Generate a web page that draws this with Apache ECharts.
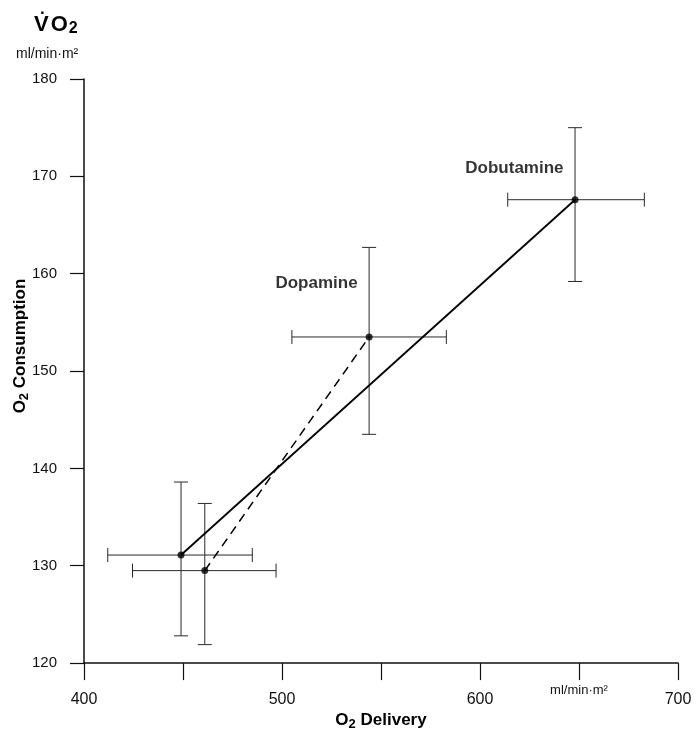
<!DOCTYPE html>
<html><head><meta charset="utf-8">
<script src="https://cdn.jsdelivr.net/npm/echarts@6/dist/echarts.min.js"></script>
<style>html,body{margin:0;padding:0;background:#fff}#c{width:698px;height:736px}</style>
</head><body><div id="c"></div>
<script>
// Groups: baseline before dobutamine, baseline before dopamine, dopamine, dobutamine
const groups = ['Baseline (Dobutamine)', 'Baseline (Dopamine)', 'Dopamine', 'Dobutamine'];
const pointLabels = ['', '', 'Dopamine', 'Dobutamine'];
const delivery = [449, 461, 544, 648];            // O2 delivery, ml/min·m²
const consumption = [131.1, 129.5, 153.5, 167.6]; // O2 consumption, ml/min·m²
const deliveryLow = [412, 424.5, 505, 614];
const deliveryHigh = [485, 497, 583, 683];
const consumptionLow = [122.8, 121.9, 143.5, 159.2];
const consumptionHigh = [138.6, 136.4, 162.7, 175.0];
const solidPair = [0, 3];  // baseline -> dobutamine
const dashedPair = [1, 2]; // baseline -> dopamine
const xTickLabels = {400: '400', 500: '500', 600: '600', 650: 'ml/min·m²', 700: '700'};

const FONT = '"Liberation Sans", Arial, Helvetica, sans-serif';
const chart = echarts.init(document.getElementById('c'), null, {renderer: 'canvas'});

const errData = groups.map((g, i) => [delivery[i], consumption[i], deliveryLow[i], deliveryHigh[i], consumptionLow[i], consumptionHigh[i]]);
const pts = groups.map((g, i) => ({value: [delivery[i], consumption[i]], name: pointLabels[i]}));

function errRender(params, api) {
  const c = api.coord([api.value(0), api.value(1)]);
  const xl = api.coord([api.value(2), api.value(1)]);
  const xh = api.coord([api.value(3), api.value(1)]);
  const yl = api.coord([api.value(0), api.value(4)]);
  const yh = api.coord([api.value(0), api.value(5)]);
  const cap = 7;
  const st = {stroke: '#2a2a2a', lineWidth: 1};
  const L = (x1, y1, x2, y2) => ({type: 'line', shape: {x1, y1, x2, y2}, style: st});
  return {type: 'group', children: [
    L(xl[0], c[1], xh[0], c[1]),
    L(xl[0], c[1] - cap, xl[0], c[1] + cap),
    L(xh[0], c[1] - cap, xh[0], c[1] + cap),
    L(c[0], yl[1], c[0], yh[1]),
    L(c[0] - cap, yl[1], c[0] + cap, yl[1]),
    L(c[0] - cap, yh[1], c[0] + cap, yh[1])
  ]};
}

chart.setOption({
  animation: false,
  backgroundColor: '#fff',
  grid: {left: 84, right: 20, top: 79, bottom: 61, containLabel: false},
  xAxis: {
    type: 'value', min: 400, max: 700, interval: 50,
    splitLine: {show: false},
    axisLine: {lineStyle: {color: '#111', width: 1.5}},
    axisTick: {length: 17, lineStyle: {color: '#111', width: 1.2}},
    axisLabel: {
      margin: 21,
      formatter: v => {
        const t = xTickLabels[v];
        if (!t) return '';
        return v === 650 ? '{u|' + t + '}' : '{n|' + t + '}';
      },
      rich: {
        n: {fontSize: 16, fontFamily: FONT, color: '#111', padding: [7, 0, 0, 0]},
        u: {fontSize: 13, fontFamily: FONT, color: '#111'}
      }
    },
    name: '{b|O}{s|2}{b| Delivery}',
    nameLocation: 'middle', nameGap: 42,
    nameTextStyle: {rich: {
      b: {fontSize: 17, fontWeight: 'bold', fontFamily: FONT, color: '#000'},
      s: {fontSize: 13, fontWeight: 'bold', fontFamily: FONT, color: '#000', padding: [8, 0, 0, 0]}
    }}
  },
  yAxis: {
    type: 'value', min: 120, max: 180, interval: 10,
    splitLine: {show: false},
    axisLine: {lineStyle: {color: '#111', width: 1.5}},
    axisTick: {length: 14, lineStyle: {color: '#111', width: 1.2}},
    axisLabel: {margin: 27, fontSize: 15, fontFamily: FONT, color: '#111'}
  },
  graphic: [
    {type: 'text', left: 34, top: 14, style: {
      text: '{v|V}{o|O}{s|2}', rich: {
        v: {fontSize: 22, fontFamily: FONT, fill: '#000', fontWeight: 'bold'},
        o: {fontSize: 22, fontFamily: FONT, fill: '#000', fontWeight: 'bold', padding: [0, 0, 0, 2]},
        s: {fontSize: 16, fontFamily: FONT, fill: '#000', fontWeight: 'bold', padding: [8, 0, 0, 1]}
      }}},
    {type: 'text', left: 40, top: 1, style: {text: '.', fontSize: 17, fontWeight: 'bold', fontFamily: FONT, fill: '#000'}},
    {type: 'text', left: 16, top: 47, style: {text: 'ml/min·m²', fontSize: 14, fontFamily: FONT, fill: '#111'}},
    {type: 'text', x: 20, y: 346, rotation: Math.PI / 2, style: {
      text: '{b|O}{s|2}{b| Consumption}', align: 'center', verticalAlign: 'middle', rich: {
        b: {fontSize: 17, fontWeight: 'bold', fontFamily: FONT, fill: '#000'},
        s: {fontSize: 13, fontWeight: 'bold', fontFamily: FONT, fill: '#000', padding: [8, 0, 0, 0]}
      }}}
  ],
  series: [
    {type: 'custom', renderItem: errRender, data: errData, z: 1, silent: true},
    {type: 'line', data: solidPair.map(i => [delivery[i], consumption[i]]), symbol: 'none',
     lineStyle: {color: '#000', width: 1.8}, z: 2},
    {type: 'line', data: dashedPair.map(i => [delivery[i], consumption[i]]), symbol: 'none',
     lineStyle: {color: '#000', width: 1.5, type: [9, 6]}, z: 2},
    {type: 'scatter', data: pts, symbolSize: 7, itemStyle: {color: '#000'}, z: 3,
     label: {show: true, formatter: p => p.name, fontSize: 17, fontWeight: 'bold', fontFamily: FONT, color: '#000',
       position: 'left', distance: 8},
     labelLayout: p => {
       if (p.dataIndex === 2) return {dy: -54};
       if (p.dataIndex === 3) return {dy: -31};
       return {};
     }}
  ]
});
</script></body></html>
